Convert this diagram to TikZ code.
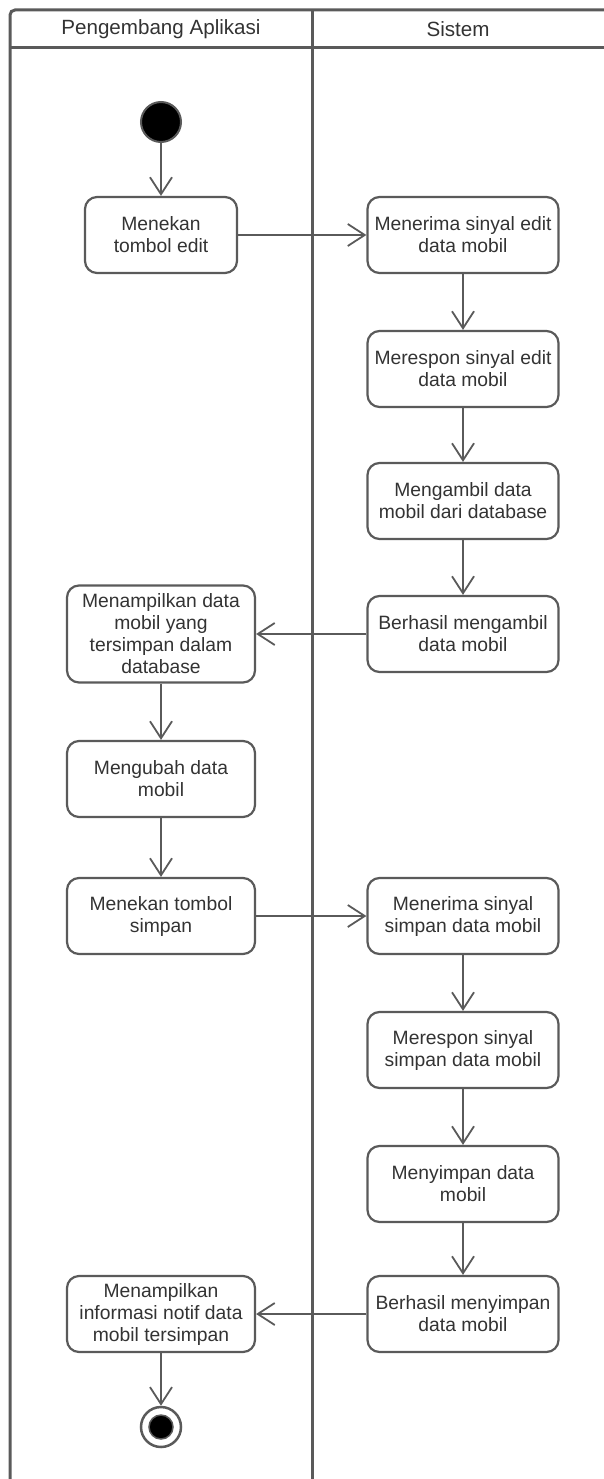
\documentclass[tikz,border=0pt]{standalone}
\usepackage{fontspec}
\setmainfont{Liberation Sans}
\usetikzlibrary{arrows.meta}
\definecolor{linegray}{HTML}{5A5A5A}
\definecolor{textgray}{HTML}{333333}
\begin{document}
\begin{tikzpicture}[x=1pt,y=-1pt,
  font=\fontsize{19.3}{22}\selectfont, text=textgray,
  act/.style={draw=linegray, line width=2.2pt, rounded corners=12pt, align=center,
    minimum height=76pt, inner sep=0pt, fill=white},
  leftact/.style={act, minimum width=188pt},
  rightact/.style={act, minimum width=191pt},
  header/.style={font=\fontsize{20.6}{24}\selectfont},
  flow/.style={draw=linegray, line width=1.8pt,
    -{Straight Barb[length=17pt,width=22pt,line width=1.8pt]}},
  lane/.style={draw=linegray, line width=3pt}
]
\useasboundingbox (0,0) rectangle (604,1479);

% swimlane frame
\draw[lane, rounded corners=5pt] (10,1479) -- (10,10) -- (604,10);
\draw[lane] (10,48) -- (604,48);
\draw[lane] (312,10) -- (312,1479);
\node[header] (hdrA) at (161,29) {Pengembang Aplikasi};
\node[header] (hdrB) at (458,29) {Sistem};

% initial state
\node[circle, draw=linegray, line width=2pt, fill=black, minimum size=40pt, inner sep=0pt] (start) at (161,122) {};

% Pengembang Aplikasi lane
\node[act, minimum width=152pt] (l1) at (161,235) {Menekan\\tombol edit};
\node[leftact, minimum height=97pt] (l2) at (161,634) {Menampilkan data\\mobil yang\\tersimpan dalam\\database};
\node[leftact] (l3) at (161,779) {Mengubah data\\mobil};
\node[leftact] (l4) at (161,916) {Menekan tombol\\simpan};
\node[leftact] (l5) at (161,1314) {Menampilkan\\informasi notif data\\mobil tersimpan};

% Sistem lane
\node[rightact] (r1) at (463,235) {Menerima sinyal edit\\data mobil};
\node[rightact] (r2) at (463,369) {Merespon sinyal edit\\data mobil};
\node[rightact] (r3) at (463,501) {Mengambil data\\mobil dari database};
\node[rightact] (r4) at (463,634) {Berhasil mengambil\\data mobil};
\node[rightact] (r5) at (463,916) {Menerima sinyal\\simpan data mobil};
\node[rightact] (r6) at (463,1050) {Merespon sinyal\\simpan data mobil};
\node[rightact] (r7) at (463,1184) {Menyimpan data\\mobil};
\node[rightact] (r8) at (463,1314) {Berhasil menyimpan\\data mobil};

% final state
\node[circle, draw=linegray, line width=2.5pt, fill=white, minimum size=40pt, inner sep=0pt] (end) at (161,1427) {};
\fill[black, draw=linegray, line width=1.5pt] (end.center) circle (12pt);

% control flow
\draw[flow] (start) -- (l1);
\draw[flow] (l1) -- (r1);
\draw[flow] (r1) -- (r2);
\draw[flow] (r2) -- (r3);
\draw[flow] (r3) -- (r4);
\draw[flow] (r4) -- (l2);
\draw[flow] (l2) -- (l3);
\draw[flow] (l3) -- (l4);
\draw[flow] (l4) -- (r5);
\draw[flow] (r5) -- (r6);
\draw[flow] (r6) -- (r7);
\draw[flow] (r7) -- (r8);
\draw[flow] (r8) -- (l5);
\draw[flow] (l5) -- (end);
\end{tikzpicture}
\end{document}
